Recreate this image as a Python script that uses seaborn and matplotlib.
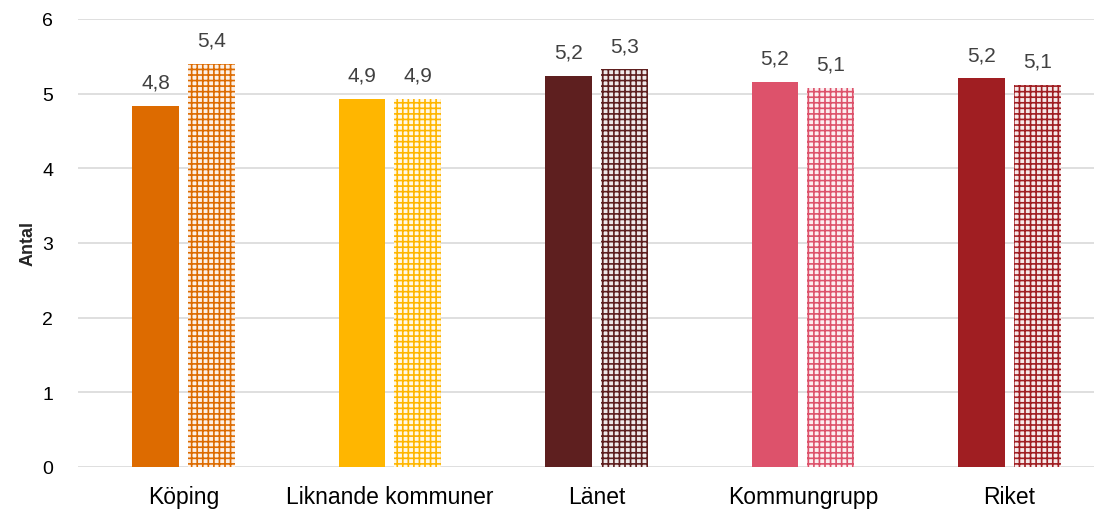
import pandas as pd
import numpy as np
import matplotlib.pyplot as plt
import matplotlib.colors as mcolors
import seaborn as sns

categories = ['Köping', 'Liknande kommuner', 'Länet', 'Kommungrupp', 'Riket']
series = ['Period 1', 'Period 2']
vals_1 = [4.84, 4.93, 5.24, 5.16, 5.21]
vals_2 = [5.40, 4.93, 5.33, 5.08, 5.12]
colors = ['#DD6B00', '#FFB600', '#5E1F1F', '#DD526B', '#A01E22']

df = pd.DataFrame({
    'cat': categories * 2,
    'serie': [series[0]] * 5 + [series[1]] * 5,
    'val': vals_1 + vals_2,
})

sns.set_style('white')
plt.rcParams['font.family'] = ['Liberation Sans', 'DejaVu Sans']
plt.rcParams['hatch.linewidth'] = 1.2

fig = plt.figure(figsize=(10.94, 5.10), dpi=100)
ax = fig.add_axes([0.0713, 0.0824, 0.9287, 0.8784])

sns.barplot(data=df, x='cat', y='val', hue='serie', order=categories,
            hue_order=series, width=0.54, gap=0.16, legend=False, ax=ax)

for j, cont in enumerate(ax.containers):
    for i, bar in enumerate(cont):
        c = colors[i]
        if j == 0:
            bar.set_facecolor(c)
            bar.set_edgecolor(c)
            bar.set_linewidth(0)
        else:
            light = 0.9 * np.array([1, 1, 1]) + 0.1 * np.array(mcolors.to_rgb(c))
            bar.set_facecolor(light)
            bar.set_edgecolor(c)
            bar.set_linewidth(0)
            bar.set_hatch('+++')
    labels = [f'{v:.1f}'.replace('.', ',') for v in cont.datavalues]
    ax.bar_label(cont, labels=labels, padding=10, fontsize=15, color='#404040')

ax.set_ylim(0, 6)
ax.set_xlim(-0.51, 4.41)
ax.set_yticks(range(7))
ax.yaxis.grid(True, color='#D9D9D9', linewidth=1.2)
ax.set_axisbelow(True)
for s in ax.spines.values():
    s.set_visible(False)
ax.tick_params(axis='both', length=0, colors='#000000')
ax.tick_params(axis='y', pad=18, labelsize=14)
ax.tick_params(axis='x', pad=13, labelsize=16.5)
ax.set_xlabel('')
ax.set_ylabel('Antal', fontsize=13, fontweight='bold', labelpad=4)

plt.savefig('out.png', dpi=100)
